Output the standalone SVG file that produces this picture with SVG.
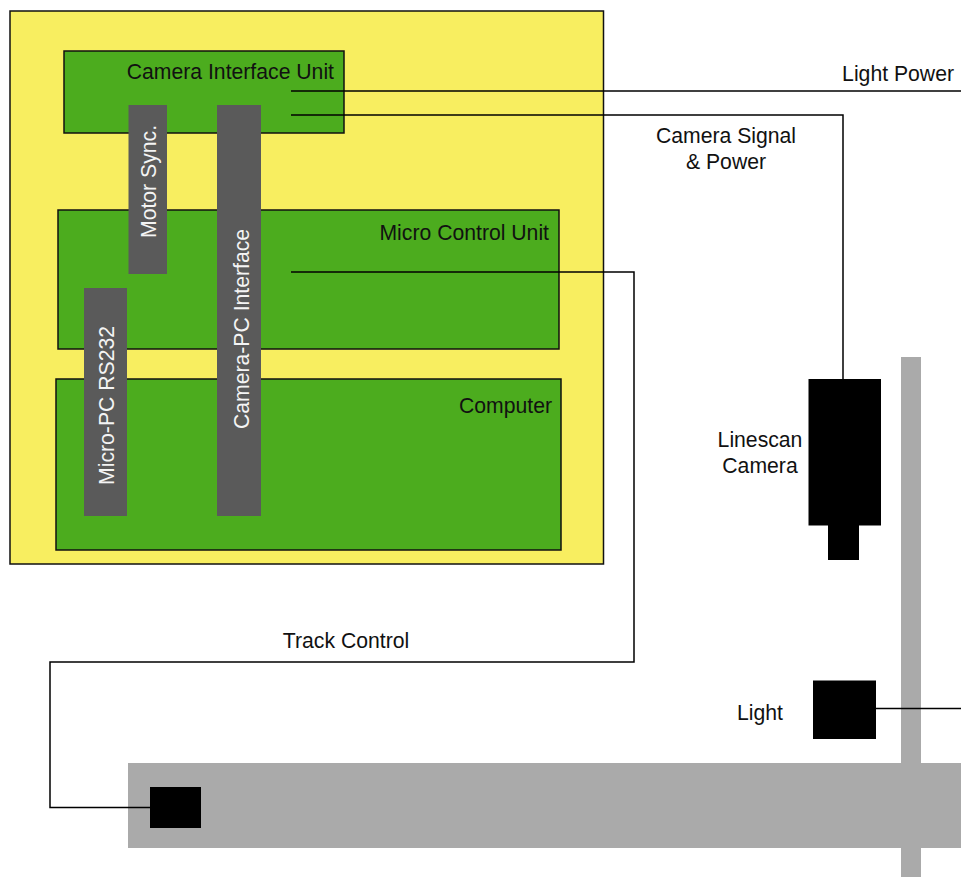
<svg xmlns="http://www.w3.org/2000/svg" width="961" height="877" viewBox="0 0 961 877">
<style>
text{font-family:"Liberation Sans",Arial,sans-serif;font-size:21.2px;fill:#111}
.g{fill:#4cac1e;stroke:#111;stroke-width:1.5}
.b{fill:#5a5a5a}
.k{fill:#000}
.s{fill:#aaa}
text.w{fill:#f4f4f4}
.c{fill:none;stroke:#000;stroke-width:1.5}
</style>
<rect width="961" height="877" fill="#fff"/>
<g id="unit"><rect x="10" y="11" width="593.500" height="553" fill="#f8ee60" stroke="#111" stroke-width="1.500"/></g>
<g id="camera-interface-unit"><rect class="g" x="64" y="51" width="280" height="82"/><text x="334" y="79" text-anchor="end">Camera Interface Unit</text></g>
<g id="micro-control-unit"><rect class="g" x="58" y="210" width="501" height="139"/><text x="549" y="240" text-anchor="end">Micro Control Unit</text></g>
<g id="computer"><rect class="g" x="56" y="379" width="505" height="171"/><text x="552" y="413" text-anchor="end">Computer</text></g>
<g id="motor-sync"><rect class="b" x="128.500" y="105" width="38.500" height="169"/><text class="w" transform="translate(156 181.500) rotate(-90)" text-anchor="middle">Motor Sync.</text></g>
<g id="camera-pc-interface"><rect class="b" x="217" y="105" width="44" height="411"/><text class="w" transform="translate(249 329) rotate(-90)" text-anchor="middle">Camera-PC Interface</text></g>
<g id="micro-pc-rs232"><rect class="b" x="84" y="288" width="43" height="228"/><text class="w" transform="translate(114 405.500) rotate(-90)" text-anchor="middle">Micro-PC RS232</text></g>
<g id="track"><rect class="s" x="901" y="357" width="20" height="520"/><rect class="s" x="128" y="763" width="833" height="85"/></g>
<g id="linescan-camera"><rect class="k" x="808.500" y="379" width="72.500" height="146.500"/><rect class="k" x="828" y="525" width="31" height="35"/><text x="760" y="447" text-anchor="middle">Linescan</text><text x="760" y="473" text-anchor="middle">Camera</text></g>
<g id="light"><rect class="k" x="813" y="680.500" width="63" height="58.500"/><text x="760" y="720" text-anchor="middle">Light</text></g>
<g id="motor"><rect class="k" x="150" y="787" width="51" height="41"/></g>
<g id="connectors">
<path class="c" d="M291 91H961"/>
<path class="c" d="M291 115H843V379"/>
<path class="c" d="M291 272H634V662H50V807.500H150"/>
<path class="c" d="M876 708.500H961"/>
</g>
<g id="labels">
<text x="954" y="81" text-anchor="end">Light Power</text>
<text x="726" y="143" text-anchor="middle">Camera Signal</text>
<text x="726" y="169" text-anchor="middle">&amp; Power</text>
<text x="346" y="648" text-anchor="middle">Track Control</text>
</g>
</svg>
